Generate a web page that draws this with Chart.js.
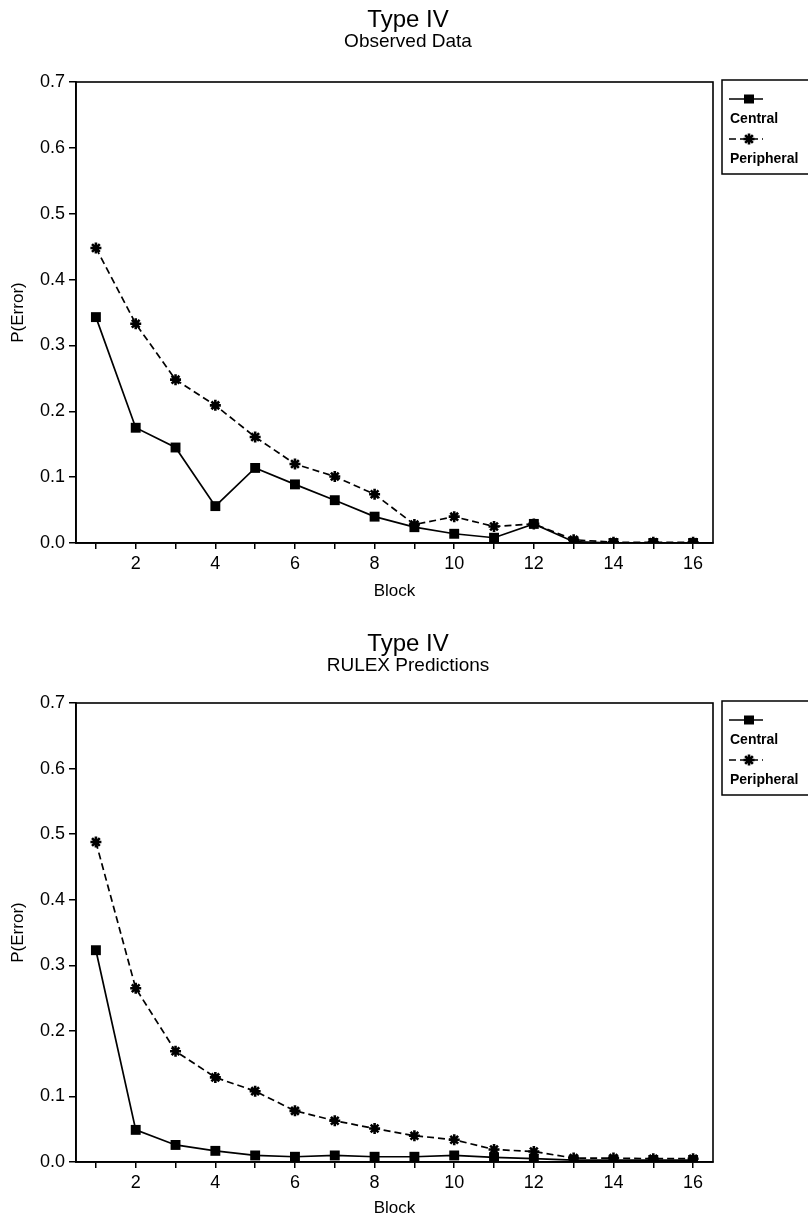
<!DOCTYPE html>
<html>
<head>
<meta charset="utf-8">
<title>Type IV</title>
<script src="https://cdn.jsdelivr.net/npm/chart.js@4.4.0/dist/chart.umd.min.js"></script>
<style>
  body { margin: 0; background: #fff; }
  canvas { display: block; }
</style>
</head>
<body>
<canvas id="observedChart" width="808" height="604"></canvas>
<canvas id="rulexChart" width="808" height="615"></canvas>
<script>
// Block numbers and the ones that get a label on the x axis
const blocks = [1, 2, 3, 4, 5, 6, 7, 8, 9, 10, 11, 12, 13, 14, 15, 16];
const labeledBlocks = [2, 4, 6, 8, 10, 12, 14, 16];
const seriesNames = ['Central', 'Peripheral'];

// P(Error) per block, observed data
const observedCentral = [0.343, 0.175, 0.145, 0.056, 0.114, 0.089, 0.065, 0.040, 0.024, 0.014, 0.008, 0.029, 0.002, 0.000, 0.000, 0.000];
const observedPeripheral = [0.448, 0.333, 0.248, 0.209, 0.161, 0.120, 0.101, 0.074, 0.028, 0.040, 0.025, 0.029, 0.005, 0.001, 0.001, 0.001];

// P(Error) per block, RULEX predictions
const rulexCentral = [0.323, 0.049, 0.026, 0.017, 0.010, 0.008, 0.010, 0.008, 0.008, 0.010, 0.007, 0.005, 0.003, 0.003, 0.003, 0.003];
const rulexPeripheral = [0.488, 0.265, 0.169, 0.129, 0.108, 0.078, 0.063, 0.051, 0.040, 0.034, 0.019, 0.016, 0.006, 0.006, 0.005, 0.005];

const FONT = '"Liberation Sans", Arial, Helvetica, sans-serif';

// box around the whole plot area
const framePlugin = {
    id: 'frame',
    afterDraw(chart) {
        const { ctx, chartArea: a } = chart;
        ctx.save();
        ctx.strokeStyle = '#000';
        ctx.lineWidth = 1.6;
        ctx.strokeRect(a.left, a.top, a.right - a.left, a.bottom - a.top);
        ctx.restore();
    }
};

function drawMarker(ctx, style, x, y) {
    ctx.beginPath();
    if (style === 'rect') {
        ctx.fillRect(x - 5, y - 4.5, 10, 9);
    } else {
        ctx.lineWidth = 2.6;
        const r = 5.5;
        ctx.moveTo(x - r, y); ctx.lineTo(x + r, y);
        ctx.moveTo(x, y - r); ctx.lineTo(x, y + r);
        ctx.moveTo(x - r * 0.7, y - r * 0.7); ctx.lineTo(x + r * 0.7, y + r * 0.7);
        ctx.moveTo(x - r * 0.7, y + r * 0.7); ctx.lineTo(x + r * 0.7, y - r * 0.7);
        ctx.stroke();
    }
}

// legend box on the right: sample line with marker, name underneath
const sideLegend = {
    id: 'sideLegend',
    afterDraw(chart) {
        const { ctx, chartArea: a } = chart;
        const x = a.right + 9;
        const y = a.top - 2;
        ctx.save();
        ctx.strokeStyle = '#000';
        ctx.fillStyle = '#000';
        ctx.lineWidth = 1.5;
        ctx.strokeRect(x, y, 120, 94);
        chart.data.datasets.forEach((ds, i) => {
            const sy = y + 19 + i * 40;
            ctx.lineWidth = 1.5;
            ctx.setLineDash(ds.borderDash || []);
            ctx.beginPath();
            ctx.moveTo(x + 7, sy);
            ctx.lineTo(x + 41, sy);
            ctx.stroke();
            ctx.setLineDash([]);
            drawMarker(ctx, ds.pointStyle, x + 27, sy);
            ctx.font = 'bold 14px ' + FONT;
            ctx.textBaseline = 'middle';
            ctx.fillText(ds.label, x + 8, sy + 20);
        });
        ctx.restore();
    }
};

function makeChart(id, subtitle, central, peripheral, pad) {
    const ctx = document.getElementById(id).getContext('2d');
    return new Chart(ctx, {
        type: 'line',
        data: {
            datasets: [{
                label: seriesNames[0],
                data: blocks.map((b, i) => ({ x: b, y: central[i] })),
                borderColor: '#000',
                backgroundColor: '#000',
                borderWidth: 1.7,
                pointStyle: 'rect',
                pointRadius: 7,
                pointBorderWidth: 0
            }, {
                label: seriesNames[1],
                data: blocks.map((b, i) => ({ x: b, y: peripheral[i] })),
                borderColor: '#000',
                backgroundColor: '#000',
                borderWidth: 1.7,
                borderDash: [7, 4],
                pointStyle: 'star',
                pointRadius: 5.5,
                pointBorderWidth: 2.6
            }]
        },
        options: {
            responsive: false,
            animation: false,
            layout: { padding: { left: 8, right: 0, top: 0, bottom: pad.bottom } },
            plugins: {
                legend: { display: false },
                tooltip: { enabled: false },
                title: {
                    display: true,
                    text: 'Type IV',
                    color: '#000',
                    font: { family: FONT, size: 24, weight: 'normal', lineHeight: 1 },
                    padding: { top: pad.title, bottom: 0 }
                },
                subtitle: {
                    display: true,
                    text: subtitle,
                    color: '#000',
                    font: { family: FONT, size: 19, weight: 'normal', lineHeight: 1 },
                    padding: { top: 0, bottom: pad.subtitle }
                }
            },
            scales: {
                x: {
                    type: 'linear',
                    min: 0.5,
                    max: 16.5,
                    afterBuildTicks: s => { s.ticks = blocks.map(v => ({ value: v })); },
                    ticks: {
                        autoSkip: false,
                        maxRotation: 0,
                        padding: 4,
                        color: '#000',
                        font: { family: FONT, size: 18 },
                        callback: v => labeledBlocks.includes(v) ? String(v) : ''
                    },
                    grid: { drawOnChartArea: false, drawTicks: true, tickLength: 6, color: '#000', lineWidth: 1.5 },
                    border: { color: '#000', width: 1.7 },
                    title: {
                        display: true,
                        text: 'Block',
                        color: '#000',
                        font: { family: FONT, size: 17 },
                        padding: { top: pad.block, bottom: 0 }
                    }
                },
                y: {
                    min: 0,
                    max: 0.7,
                    afterFit: s => { s.width = 68; },
                    ticks: {
                        stepSize: 0.1,
                        padding: 4,
                        color: '#000',
                        font: { family: FONT, size: 18 },
                        callback: v => v.toFixed(1)
                    },
                    grid: { drawOnChartArea: false, drawTicks: true, tickLength: 7, color: '#000', lineWidth: 1.5 },
                    border: { color: '#000', width: 1.7 },
                    title: {
                        display: true,
                        text: 'P(Error)',
                        color: '#000',
                        font: { family: FONT, size: 17 },
                        padding: { top: 0, bottom: 2 }
                    }
                },
                // empty strip on the right that holds the legend box
                legendSpace: {
                    position: 'right',
                    display: true,
                    afterFit: s => { s.width = 95; },
                    ticks: { display: false },
                    grid: { display: false },
                    border: { display: false }
                }
            }
        },
        plugins: [framePlugin, sideLegend]
    });
}

makeChart('observedChart', 'Observed Data', observedCentral, observedPeripheral,
    { title: 8, subtitle: 31, bottom: 2, block: 3 });
makeChart('rulexChart', 'RULEX Predictions', rulexCentral, rulexPeripheral,
    { title: 28, subtitle: 28, bottom: 0, block: 1 });
</script>
</body>
</html>
